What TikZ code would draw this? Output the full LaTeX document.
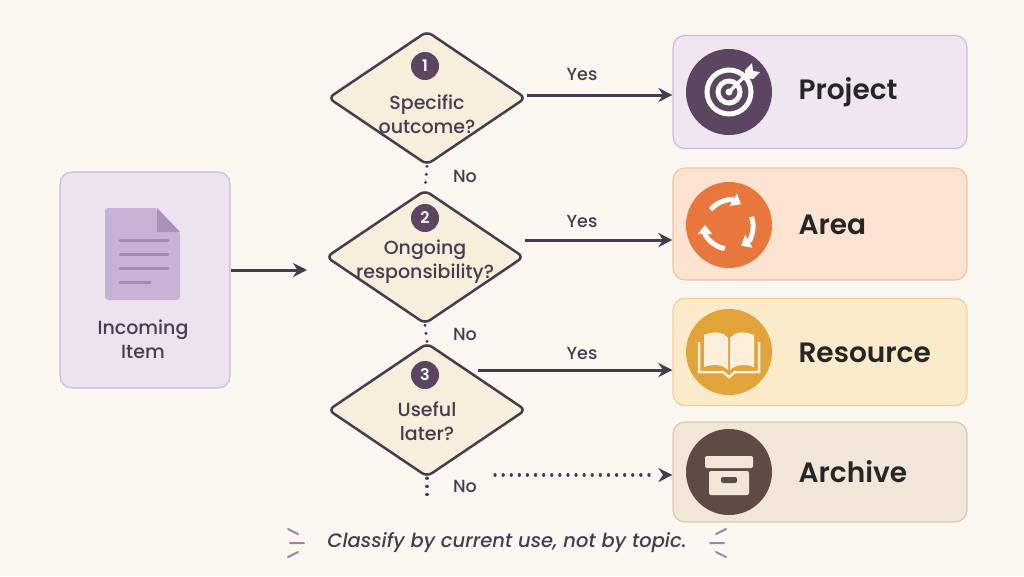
\documentclass[tikz,border=0pt]{standalone}
\usepackage{fontspec}
\setmainfont{Poppins}[UprightFont={* Medium},BoldFont={* SemiBold},ItalicFont={* Medium Italic}]
\usetikzlibrary{shapes.geometric,arrows.meta}
\definecolor{bg}{HTML}{FBF8F1}
\definecolor{ink}{HTML}{4A3A4F}
\definecolor{dpur}{HTML}{5B4560}
\definecolor{dfill}{HTML}{F8EEDC}
\definecolor{docl}{HTML}{A08DB5}
\definecolor{docf}{HTML}{C7B2D6}
\definecolor{docc}{HTML}{AA91BE}
\definecolor{cream}{HTML}{FCF0DC}
\definecolor{inf}{HTML}{EDE3F0}\definecolor{ind}{HTML}{CDBAD7}
\definecolor{prf}{HTML}{EFE6F2}\definecolor{prd}{HTML}{CDBBD8}
\definecolor{arf}{HTML}{FCE3D2}\definecolor{ard}{HTML}{F2C3A2}
\definecolor{ref}{HTML}{FCEBCB}\definecolor{red2}{HTML}{F1D08E}
\definecolor{acf}{HTML}{F1E6D8}\definecolor{acd}{HTML}{DCC9B2}
\definecolor{ico2}{HTML}{E8773E}\definecolor{ico3}{HTML}{E3A33B}\definecolor{ico4}{HTML}{5E4B45}
\definecolor{dashc}{HTML}{9A86A8}
\begin{document}
\begin{tikzpicture}[x=1pt,y=-1pt,
  box/.style={line width=1.2pt,rounded corners=12pt,minimum width=294pt},
  dia/.style={diamond,draw=ink,fill=dfill,line width=2.5pt,rounded corners=6pt,minimum width=198pt,minimum height=134pt,aspect=1.48,inner sep=0pt},
  num/.style={circle,fill=dpur,text=white,minimum size=28pt,inner sep=0pt,font=\fontsize{16}{16}\selectfont\bfseries},
  dtxt/.style={align=center,text=ink,font=\fontsize{19}{24}\selectfont},
  lab/.style={text=ink,font=\fontsize{17.5}{17.5}\selectfont},
  big/.style={text=black!85,font=\fontsize{28}{28}\selectfont\bfseries,anchor=west},
  arr/.style={draw=ink,line width=3pt,-{Stealth[length=14pt,width=14pt]}},
  dots/.style={draw=ink,line width=3.2pt,dash pattern=on 0.1pt off 8pt,line cap=round},
  ico/.style={circle,minimum size=86pt,inner sep=0pt}]
\fill[bg] (0,0) rectangle (1024,576);
\useasboundingbox (0,0) rectangle (1024,576);
\node[line width=1.2pt,rounded corners=12pt,fill=inf,draw=ind,minimum width=170pt,minimum height=216pt] (in) at (145,280) {};
\fill[docf,rounded corners=3pt] (105,208) -- (157,208) -- (180,232) -- (180,300) -- (105,300) -- cycle;
\fill[docc] (157,208) -- (157,232) -- (180,232) -- cycle;
\foreach \yy/\ww in {240/48,254/48,268/48,282/30} \draw[docl,line width=3pt,line cap=round] (120,\yy) -- ++(\ww,0);
\node[dtxt] (intxt) at (143,339) {Incoming\\Item};
\node[dia] (d1) at (427,98) {};
\node[dia] (d2) at (425,257) {};
\node[dia] (d3) at (427,410) {};
\node[num] (n1) at (425,66) {1};
\node[num] (n2) at (425,218) {2};
\node[num] (n3) at (425,375) {3};
\node[dtxt] (t1) at (427,114) {Specific\\outcome?};
\node[dtxt] (t2) at (425,262) {Ongoing\\responsibility?};
\node[dtxt] (t3) at (427,421) {Useful\\later?};
\node[box,draw=prd,fill=prf,minimum height=113pt] (pr) at (820,92) {};
\node[box,draw=ard,fill=arf,minimum height=112pt] (ar) at (820,224) {};
\node[box,draw=red2,fill=ref,minimum height=107pt] (re) at (820,352) {};
\node[box,draw=acd,fill=acf,minimum height=100pt] (ac) at (820,472) {};
\node[ico,fill=dpur] (i1) at (729,92) {};
\node[ico,fill=ico2] (i2) at (729,225) {};
\node[ico,fill=ico3] (i3) at (729,352) {};
\node[ico,fill=ico4] (i4) at (729,472) {};
\node[big] (l1) at (795,92) {Project};
\node[big] (l2) at (795,225) {Area};
\node[big] (l3) at (795,353) {Resource};
\node[big] (l4) at (795,472) {Archive};
\draw[white,line width=5pt] (i1) circle (22pt);
\draw[white,line width=5pt] (i1) circle (11pt);
\fill[white] (i1) circle (3.5pt);
\draw[white,line width=3.5pt] (729,92) -- (747,74);
\fill[white] (745,70) -- (752,63) -- (753,71) -- (760,72) -- (753,79) -- (745,78) -- cycle;
\begin{scope}[shift={(729,225)}]
\foreach \a in {0,120,240}
  \draw[white,line width=5pt,rotate=\a,-{Triangle[length=9pt,width=14pt]}] (-140:24) arc (-140:-60:24);
\end{scope}
\fill[cream] (704,335) .. controls (716,330) and (724,333) .. (728,338) -- (728,370) .. controls (722,364) and (712,364) .. (704,367) -- cycle;
\fill[cream] (754,335) .. controls (742,330) and (734,333) .. (730,338) -- (730,370) .. controls (736,364) and (746,364) .. (754,367) -- cycle;
\draw[cream,line width=2.5pt] (699,342) -- (699,372) -- (723,372) -- (729,377) -- (735,372) -- (759,372) -- (759,342);
\fill[acf,rounded corners=2pt] (705,456) rectangle (753,468);
\fill[acf,rounded corners=2pt] (709,471) rectangle (749,495);
\fill[ico4,rounded corners=2pt] (721,477) rectangle (737,483);
\coordinate (y0) at (in.east |- 0,270);
\coordinate (y1) at (pr.west |- 0,95);
\coordinate (y2) at (ar.west |- 0,240);
\coordinate (y3) at (re.west |- 0,370);
\coordinate (y4) at (ac.west |- 0,475);
\coordinate (s4) at (495,475);
\draw[arr] (y0) -- (307,270);
\draw[arr] (d1.east |- y1) -- (y1);
\draw[arr] (d2.east |- y2) -- (y2);
\draw[arr] (478,370) -- (y3);
\draw[dots] (d1.south) -- (d2.north);
\draw[dots] (d2.south) -- (d3.north);
\draw[dots] (d3.south) -- ++(0,22);
\draw[dots] (s4) -- (650,475);
\draw[arr,dash pattern=on 0pt off 100pt] (640,475) -- (y4);
\node[lab] at (582,74) {Yes};
\node[lab] at (582,221) {Yes};
\node[lab] at (582,353) {Yes};
\node[lab] at (465,176) {No};
\node[lab] at (465,334) {No};
\node[lab] at (465,486) {No};
\node[text=ink,font=\fontsize{19.5}{19.5}\selectfont\itshape] (cap) at (507,543) {Classify by current use, not by topic.};
\draw[dashc,line width=2pt,line cap=round] (288,529) -- (298,534) (290,543) -- (304,543) (288,557) -- (298,552);
\draw[dashc,line width=2pt,line cap=round] (726,529) -- (716,534) (724,543) -- (710,543) (726,557) -- (716,552);
\end{tikzpicture}
\end{document}
